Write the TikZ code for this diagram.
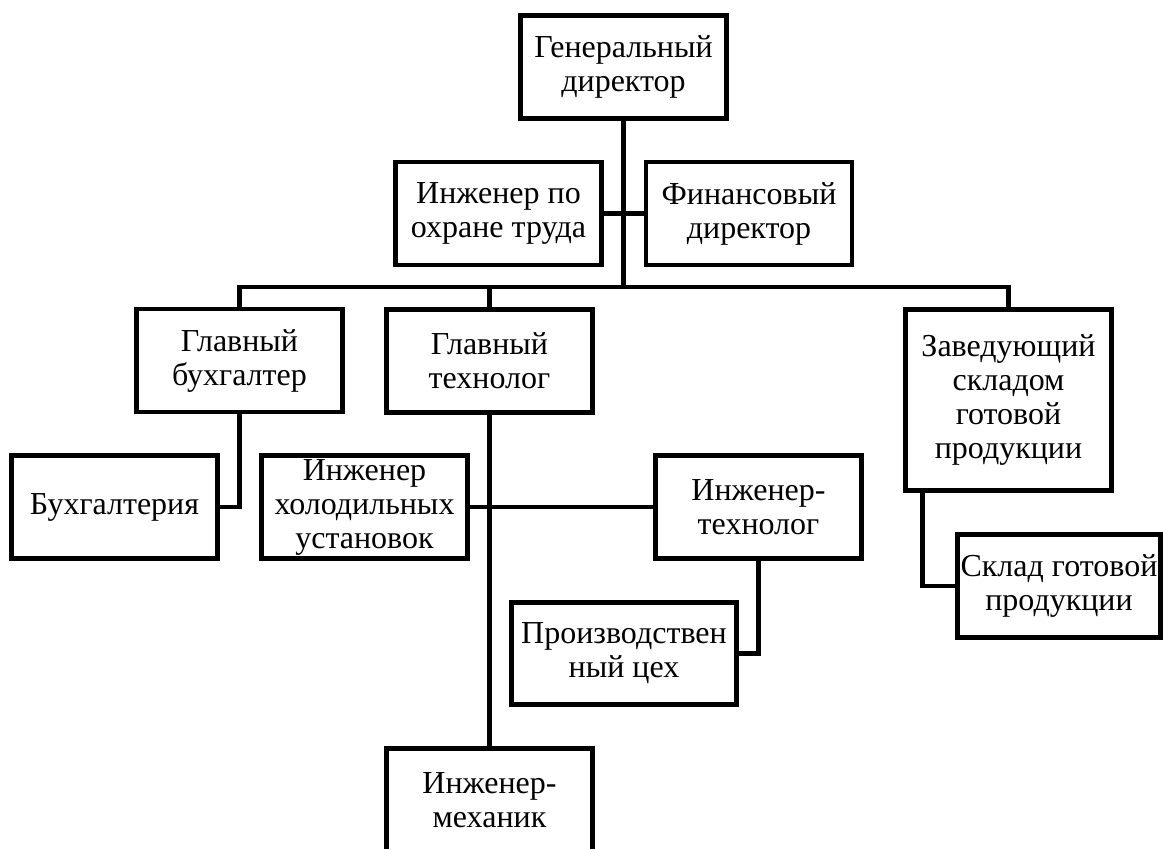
\documentclass[tikz,border=0pt]{standalone}
\usepackage{fontspec}
\setmainfont{Liberation Serif}
\usetikzlibrary{calc}
\begin{document}
\begin{tikzpicture}[x=1pt,y=-1pt,
  box/.style={draw=black,line width=4.6pt,fill=white,minimum width=206pt,minimum height=103pt,inner sep=0pt,align=center,font=\fontsize{32}{34}\selectfont},
  conn/.style={draw=black,line width=4.6pt,line join=miter}]
\useasboundingbox (0,0) rectangle (1163,849);
\clip (0,0) rectangle (1163,849);
\node[box] (gd) at (623.5,67) {Генеральный\\директор};
\node[box] (ot) at (498.5,213.5) {Инженер по\\охране труда};
\node[box] (fd) at (749,213.5) {Финансовый\\директор};
\node[box] (gb) at (239.5,360.5) {Главный\\бухгалтер};
\node[box] (gt) at (489.5,361) {Главный\\технолог};
\node[box,minimum height=181pt] (zs) at (1008.5,400) {Заведующий\\складом\\готовой\\продукции};
\node[box] (bu) at (114.5,507) {Бухгалтерия};
\node[box] (ih) at (364.5,507) {Инженер\\холодильных\\установок};
\node[box] (it) at (758.5,507) {Инженер-\\технолог};
\node[box,minimum width=225pt,minimum height=102pt] (pc) at (624,653.5) {Производствен\\ный цех};
\node[box,minimum width=203pt] (sk) at (1059,586) {Склад готовой\\продукции};
\node[box] (im) at (489.5,800) {Инженер-\\механик};
\coordinate (busM) at (623.5,287);
\coordinate (zsb) at ([xshift=19.5pt]zs.south west);
\draw[conn] (gd.south) -- (busM);
\draw[conn] (ot.east) -- (fd.west);
\draw[conn] (gb.north) |- (busM) -| (zs.north);
\draw[conn] (gt.north) -- (gt.north |- busM);
\draw[conn] (gb.south) |- (bu.east);
\draw[conn] (gt.south) -- (im.north);
\draw[conn] (ih.east) -- (it.west);
\draw[conn] (it.south) |- (pc.east);
\draw[conn] (zsb) |- (sk.west);
\end{tikzpicture}
\end{document}
